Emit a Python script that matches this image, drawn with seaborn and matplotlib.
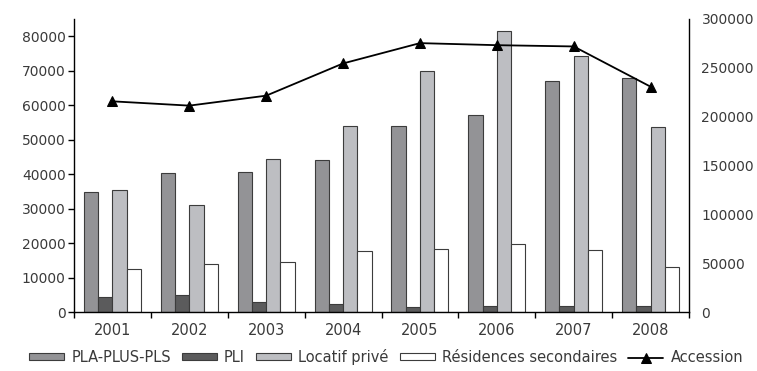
import matplotlib
matplotlib.use("Agg")
import matplotlib.pyplot as plt
import seaborn as sns
import numpy as np
import pandas as pd
from matplotlib.ticker import FixedLocator

years = ["2001", "2002", "2003", "2004", "2005", "2006", "2007", "2008"]
pla_plus_pls = [34700, 40250, 40600, 44000, 53900, 57100, 66900, 68000]
pli = [4400, 5000, 3000, 2200, 1450, 1650, 1650, 1750]
locatif_prive = [35300, 30900, 44500, 54100, 69900, 81400, 74400, 53700]
residences_secondaires = [12500, 13800, 14400, 17600, 18300, 19700, 18100, 13150]
accession = [215700, 211300, 221500, 254500, 275300, 273200, 271900, 230700]

series_names = ["PLA-PLUS-PLS", "PLI", "Locatif privé", "Résidences secondaires"]
bar_colors = ["#939396", "#5b5b5c", "#bdbec2", "#ffffff"]

df = pd.DataFrame({
    "année": years * 4,
    "série": np.repeat(series_names, len(years)),
    "logements": pla_plus_pls + pli + locatif_prive + residences_secondaires,
})

sns.set_theme(style="white")
plt.rcParams["font.family"] = ["DejaVu Sans"]
text_color = "#3a3a3a"

fig = plt.figure(figsize=(7.57, 3.71), dpi=100)
ax = fig.add_axes([74 / 757, 1 - 312 / 371, (689 - 74) / 757, (312 - 19) / 371])

sns.barplot(data=df, x="année", y="logements", hue="série", hue_order=series_names,
            palette=bar_colors, saturation=1, width=0.74, edgecolor="#3c3c3c",
            linewidth=0.8, ax=ax, errorbar=None)
ax.get_legend().remove()

ax.set_xlim(-0.5, len(years) - 0.5)
ax.set_ylim(0, 85000)
ax.set_yticks(np.arange(0, 80001, 10000))
ax.set_xlabel("")
ax.set_ylabel("")

ax2 = ax.twinx()
sns.lineplot(x=np.arange(len(years)), y=accession, ax=ax2, color="black",
             linewidth=1.3, marker="^", markersize=7, markeredgecolor="black",
             label="Accession")
ax2.get_legend().remove()
ax2.set_ylim(0, 300000)
ax2.set_yticks(np.arange(0, 300001, 50000))
ax2.set_ylabel("")

# spines
for a in (ax, ax2):
    for s in a.spines.values():
        s.set_visible(False)
ax.spines["left"].set_visible(True)
ax.spines["bottom"].set_visible(True)
ax2.spines["right"].set_visible(True)
for s in (ax.spines["left"], ax.spines["bottom"], ax2.spines["right"]):
    s.set_color("black")
    s.set_linewidth(1.0)

fs = 10.5
yfs = 10
# x axis: labels at centers, tick marks at category boundaries
ax.xaxis.set_minor_locator(FixedLocator(np.arange(-0.5, len(years), 1.0)))
ax.tick_params(axis="x", which="major", length=0, pad=8, labelsize=fs, labelcolor=text_color)
ax.tick_params(axis="x", which="minor", bottom=True, length=4, width=1.0, color="black", direction="out")
ax.tick_params(axis="y", which="major", left=True, length=4, width=1.0, color="black",
               direction="out", pad=2, labelsize=yfs, labelcolor=text_color)
ax2.yaxis.set_minor_locator(FixedLocator([0]))
ax2.tick_params(axis="y", which="major", right=True, length=0, pad=9, labelsize=yfs, labelcolor=text_color)
ax2.tick_params(axis="y", which="minor", right=True, length=4, width=1.0, color="black", direction="out")
ax.grid(False)
ax2.grid(False)

h1, l1 = ax.get_legend_handles_labels()
h2, l2 = ax2.get_legend_handles_labels()
leg = fig.legend(h1 + h2, l1 + l2, loc="center", bbox_to_anchor=(386 / 757, 14 / 371),
                 ncol=5, frameon=False, fontsize=fs, handlelength=2.4, handleheight=0.35,
                 handletextpad=0.5, columnspacing=0.75, borderpad=0, labelcolor=text_color)

fig.savefig("out.png", dpi=100)
